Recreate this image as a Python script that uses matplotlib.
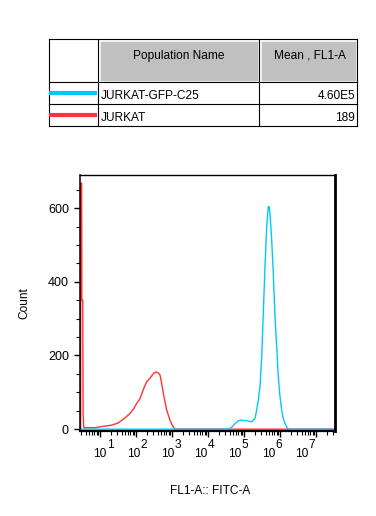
import numpy as np
import matplotlib
matplotlib.use('Agg')
import matplotlib.pyplot as plt
from matplotlib import ticker, transforms
from matplotlib.patches import Rectangle
from matplotlib.lines import Line2D

plt.rcParams['font.family'] = ['Liberation Sans', 'DejaVu Sans']

# populations (table rows)
POP_NAMES = ['JURKAT-GFP-C25', 'JURKAT']
POP_MEANS = ['4.60E5', '189']
POP_COLORS = ['#00c8ff', '#ff3333']
TABLE_HEADER = ['Population Name', 'Mean , FL1-A']

# histogram of JURKAT-GFP-C25 (log10 FL1-A, count)
gfp_log = [0.44, 4.564, 4.658, 4.75, 4.842, 4.936, 5.075, 5.214, 5.306, 5.353,
           5.397, 5.444, 5.492, 5.536, 5.583, 5.631, 5.675, 5.703, 5.722,
           5.769, 5.814, 5.861, 5.908, 5.953, 6.0, 6.047, 6.092, 6.139,
           6.186, 6.231, 7.55]
gfp_count = [0, 0, 5, 15, 23, 24, 23, 20, 29, 52,
             79, 115, 196, 314, 441, 549, 604, 604, 586,
             513, 423, 305, 223, 142, 88, 52, 29, 15,
             6, 0, 0]

# histogram of JURKAT
jur_log = [0.462, 0.466, 0.49, 0.495, 0.52, 0.53, 0.55, 0.88, 0.92, 1.05,
           1.19, 1.32, 1.42, 1.509, 1.602, 1.713, 1.833, 1.926, 2.019, 2.111,
           2.204, 2.296, 2.389, 2.481, 2.55, 2.62, 2.667, 2.713, 2.759, 2.806,
           2.852, 2.898, 2.944, 2.991, 3.037, 3.083, 7.55]
jur_count = [0, 668, 668, 350, 350, 40, 4, 4, 5, 7,
             9, 11, 14, 17, 24, 32, 43, 54, 70, 83,
             108, 129, 138, 151, 155, 153, 147, 124, 97, 74,
             52, 38, 24, 14, 6, 0, 0]

X_DECADES = [1, 2, 3, 4, 5, 6, 7]
Y_TICKS = [0, 200, 400, 600]

FS = 8.6


def draw_table(ax_t):
    """Table above the plot, drawn in figure pixel coords."""
    x0, x1, x2, x3 = 49, 98, 259, 357
    y0, y1, y2, y3 = 39, 82, 104, 126
    # header gray cells
    for xa, xb in [(x1, x2), (x2, x3)]:
        ax_t.add_patch(Rectangle((xa + 1.5, y0 + 1.5), xb - xa - 3, y1 - y0 - 3,
                                 facecolor='#c0c0c0', edgecolor='#eeeeee',
                                 lw=0.8))
    # grid lines
    kw = dict(color='black', lw=0.8, solid_capstyle='projecting')
    for y in [y0, y1, y2, y3]:
        ax_t.add_line(Line2D([x0, x3], [y, y], **kw))
    for x in [x0, x1, x2, x3]:
        ax_t.add_line(Line2D([x, x], [y0, y3], **kw))
    ax_t.text((x1 + x2) / 2, 58.6, TABLE_HEADER[0], ha='center',
              va='baseline', fontsize=FS)
    ax_t.text((x2 + x3) / 2 + 2, 58.6, TABLE_HEADER[1], ha='center',
              va='baseline', fontsize=FS)
    for i, (name, mean, col) in enumerate(zip(POP_NAMES, POP_MEANS,
                                              POP_COLORS)):
        ya, yb = [(y1, y2), (y2, y3)][i]
        ym = (ya + yb) / 2
        ax_t.add_line(Line2D([x0, x1 - 1], [ym, ym], color=col, lw=3,
                             solid_capstyle='butt'))
        ax_t.text(x1 + 3, yb - 5, name, ha='left', va='baseline', fontsize=FS)
        ax_t.text(x3 - 2, yb - 5, mean, ha='right', va='baseline',
                  fontsize=FS)


def main():
    fig = plt.figure(figsize=(3.76, 5.16), dpi=100)
    ax_t = fig.add_axes([0, 0, 1, 1])
    ax_t.set_xlim(0, 376)
    ax_t.set_ylim(516, 0)
    ax_t.axis('off')
    draw_table(ax_t)

    ax = fig.add_axes([80 / 376, (516 - 431) / 516, 255 / 376, 256 / 516])
    ax.plot(10 ** np.array(jur_log), jur_count, color=POP_COLORS[1], lw=1.0)
    ax.plot(10 ** np.array(gfp_log), gfp_count, color=POP_COLORS[0], lw=1.0)

    ax.set_xscale('log')
    ax.set_xlim(10 ** 0.444, 10 ** 7.528)
    ax.set_ylim(-5, 690)

    ax.xaxis.set_major_locator(ticker.FixedLocator(
        [10.0 ** k for k in X_DECADES]))
    ax.xaxis.set_minor_locator(ticker.LogLocator(
        base=10, subs=np.arange(2, 10), numticks=100))
    ax.xaxis.set_major_formatter(ticker.NullFormatter())
    ax.xaxis.set_minor_formatter(ticker.NullFormatter())
    ax.yaxis.set_major_locator(ticker.FixedLocator(Y_TICKS))
    ax.yaxis.set_minor_locator(ticker.MultipleLocator(50))
    ax.tick_params(which='major', direction='out', length=4.5, width=1.0,
                   labelsize=9, pad=3.5)
    ax.tick_params(which='minor', direction='out', length=2.8, width=0.8)

    for side, lw in [('left', 1.1), ('top', 1.0), ('right', 2.0),
                     ('bottom', 1.6)]:
        ax.spines[side].set_linewidth(lw)

    # decade labels (10 + superscript), drifting slightly left like FlowJo
    tr = transforms.blended_transform_factory(ax.transData, ax_t.transData)
    for k in X_DECADES:
        dx = -2.33 * (k - 1)
        off = transforms.ScaledTranslation(dx / 100, 0, fig.dpi_scale_trans)
        ax.text(10.0 ** k, 456.7, '10', transform=tr + off, ha='center',
                va='baseline', fontsize=FS, clip_on=False)
        off2 = transforms.ScaledTranslation((dx + 6.8) / 100, 0,
                                            fig.dpi_scale_trans)
        ax.text(10.0 ** k, 448.5, str(k), transform=tr + off2, ha='left',
                va='baseline', fontsize=FS, clip_on=False)

    ax.set_xlabel('FL1-A:: FITC-A', fontsize=FS)
    ax.xaxis.set_label_coords(0.512, -0.211)
    ax.set_ylabel('Count', fontsize=FS)
    ax.yaxis.set_label_coords(-0.194, 0.5)

    fig.savefig('out.png', dpi=100)


if __name__ == '__main__':
    main()
